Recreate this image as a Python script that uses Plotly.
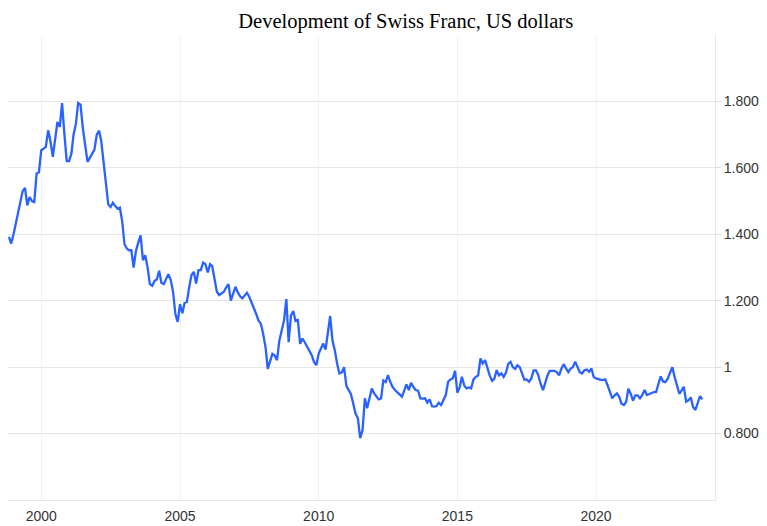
import plotly.graph_objects as go
import pandas as pd

# Monthly USD/CHF values, Nov 1998 - Nov 2023
start_month = "1998-11-01"

rates_1998 = [1.392, 1.372]
rates_1999 = [1.400, 1.435, 1.470, 1.505, 1.530, 1.540, 1.487, 1.512, 1.500, 1.497, 1.583, 1.587]
rates_2000 = [1.653, 1.658, 1.663, 1.713, 1.680, 1.633, 1.680, 1.738, 1.723, 1.795, 1.700, 1.620]
rates_2001 = [1.620, 1.643, 1.700, 1.733, 1.795, 1.790, 1.720, 1.660, 1.618, 1.630, 1.643, 1.655]
rates_2002 = [1.700, 1.712, 1.680, 1.620, 1.560, 1.490, 1.482, 1.495, 1.485, 1.477, 1.480, 1.440]
rates_2003 = [1.370, 1.357, 1.352, 1.352, 1.300, 1.350, 1.375, 1.397, 1.322, 1.337, 1.300, 1.250]
rates_2004 = [1.245, 1.260, 1.264, 1.290, 1.254, 1.250, 1.265, 1.280, 1.262, 1.227, 1.160, 1.136]
rates_2005 = [1.190, 1.162, 1.193, 1.196, 1.240, 1.277, 1.287, 1.252, 1.292, 1.292, 1.315, 1.310]
rates_2006 = [1.285, 1.310, 1.304, 1.260, 1.227, 1.217, 1.222, 1.227, 1.240, 1.250, 1.200, 1.220]
rates_2007 = [1.242, 1.225, 1.214, 1.207, 1.215, 1.224, 1.212, 1.196, 1.180, 1.160, 1.140, 1.131]
rates_2008 = [1.100, 1.060, 0.995, 1.020, 1.040, 1.035, 1.021, 1.080, 1.110, 1.140, 1.205, 1.075]
rates_2009 = [1.156, 1.169, 1.139, 1.142, 1.070, 1.086, 1.075, 1.061, 1.045, 1.036, 1.015, 1.006]
rates_2010 = [1.041, 1.060, 1.071, 1.053, 1.100, 1.154, 1.080, 1.051, 1.010, 0.981, 0.984, 1.000]
rates_2011 = [0.943, 0.930, 0.919, 0.890, 0.860, 0.846, 0.786, 0.810, 0.906, 0.876, 0.910, 0.936]
rates_2012 = [0.921, 0.910, 0.903, 0.906, 0.960, 0.955, 0.976, 0.955, 0.940, 0.931, 0.925, 0.918]
rates_2013 = [0.911, 0.930, 0.948, 0.931, 0.953, 0.940, 0.931, 0.929, 0.906, 0.905, 0.906, 0.893]
rates_2014 = [0.903, 0.882, 0.881, 0.883, 0.893, 0.886, 0.900, 0.916, 0.956, 0.963, 0.966, 0.989]
rates_2015 = [0.923, 0.940, 0.971, 0.945, 0.936, 0.939, 0.936, 0.963, 0.971, 0.975, 1.026, 1.011]
rates_2016 = [1.021, 0.996, 0.975, 0.959, 0.965, 0.991, 0.975, 0.981, 0.971, 0.983, 1.010, 1.016]
rates_2017 = [1.000, 0.995, 1.006, 1.000, 0.981, 0.962, 0.963, 0.956, 0.966, 0.990, 0.990, 0.976]
rates_2018 = [0.950, 0.931, 0.951, 0.975, 0.989, 0.990, 0.989, 0.985, 0.975, 0.995, 1.009, 0.996]
rates_2019 = [0.985, 0.996, 1.000, 1.016, 1.000, 0.985, 0.981, 0.991, 0.993, 0.986, 0.996, 0.970]
rates_2020 = [0.966, 0.963, 0.962, 0.961, 0.963, 0.945, 0.925, 0.906, 0.915, 0.921, 0.911, 0.890]
rates_2021 = [0.886, 0.896, 0.935, 0.920, 0.899, 0.915, 0.915, 0.906, 0.916, 0.931, 0.916, 0.919]
rates_2022 = [0.922, 0.925, 0.925, 0.950, 0.972, 0.957, 0.955, 0.965, 0.985, 1.000, 0.970, 0.941]
rates_2023 = [0.920, 0.930, 0.941, 0.896, 0.900, 0.909, 0.880, 0.871, 0.890, 0.913, 0.903]

rates = (rates_1998 + rates_1999 + rates_2000 + rates_2001 + rates_2002 + rates_2003
         + rates_2004 + rates_2005 + rates_2006 + rates_2007 + rates_2008 + rates_2009
         + rates_2010 + rates_2011 + rates_2012 + rates_2013 + rates_2014 + rates_2015
         + rates_2016 + rates_2017 + rates_2018 + rates_2019 + rates_2020 + rates_2021
         + rates_2022 + rates_2023)
dates = pd.date_range(start_month, periods=len(rates), freq="MS")

year_ticks = ["2000", "2005", "2010", "2015", "2020"]
y_ticks = [0.8, 1.0, 1.2, 1.4, 1.6, 1.8]
y_tick_text = ["0.800", "1", "1.200", "1.400", "1.600", "1.800"]

tick_font = dict(family="Liberation Sans, Arial, sans-serif", size=14, color="#333")

fig = go.Figure()
fig.add_trace(go.Scatter(
    x=dates,
    y=rates,
    mode="lines",
    line=dict(color="#2962ff", width=2.3),
    showlegend=False
))

# the page adds an 8px body margin, so the figure is sized to fit the window
fig.update_layout(
    width=759,
    height=518,
    margin=dict(l=0, r=52, t=27, b=26),
    paper_bgcolor="white",
    plot_bgcolor="white",
    title=dict(
        text="Development of Swiss Franc, US dollars",
        xref="container", x=0.524, xanchor="center",
        yref="container", y=0.99, yanchor="top",
        pad=dict(t=0, b=0),
        font=dict(family="Liberation Serif, Times New Roman, serif", size=20.5, color="#000")
    ),
    xaxis=dict(
        type="date",
        range=["1998-10-20", "2024-04-15"],
        tickvals=[y + "-01-01" for y in year_ticks],
        ticktext=year_ticks,
        showgrid=True,
        gridcolor="#eef3f5",
        showline=True,
        linecolor="#e6e6e6",
        zeroline=False,
        ticks="",
        ticklabelstandoff=3,
        tickfont=tick_font
    ),
    yaxis=dict(
        side="right",
        range=[0.6, 2.0],
        tickvals=y_ticks,
        ticktext=y_tick_text,
        showgrid=True,
        gridcolor="#e6e6e6",
        showline=True,
        linecolor="#e6e6e6",
        zeroline=False,
        ticks="outside",
        ticklen=5,
        tickcolor="#dddddd",
        tickfont=tick_font
    )
)

fig.write_html("out.html")
